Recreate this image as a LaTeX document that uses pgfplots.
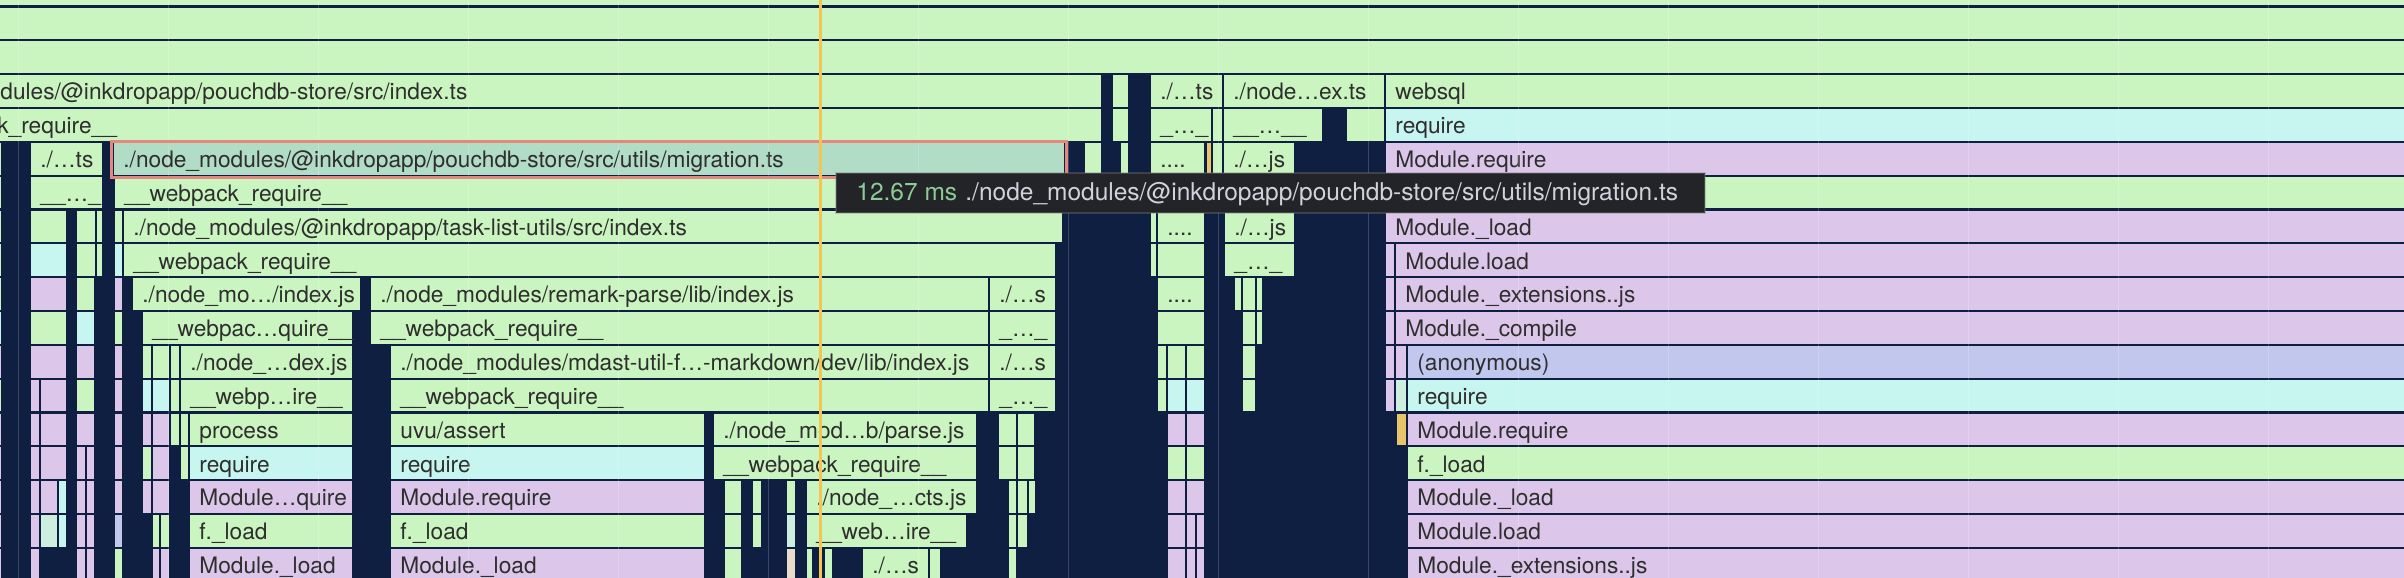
\documentclass[border=0pt]{standalone}
\usepackage{pgfplots}
\pgfplotsset{compat=1.18}
\usepackage{fontspec}
\setmainfont{TeX Gyre Heros}
\definecolor{NV}{HTML}{0F1F41}
\definecolor{G}{HTML}{CBF5C0}
\definecolor{C}{HTML}{C7F5EF}
\definecolor{P}{HTML}{DCC6E9}
\definecolor{A}{HTML}{C2C7EE}
\definecolor{M}{HTML}{CDEFE0}
\definecolor{O}{HTML}{E8C46A}
\definecolor{T}{HTML}{E9DCC9}
\definecolor{H}{HTML}{B1DCC6}
\definecolor{SAL}{HTML}{E4877F}
\definecolor{CUR}{HTML}{F5C451}
\definecolor{TT}{HTML}{232428}
\definecolor{TTG}{HTML}{8DCB97}
\definecolor{TTW}{HTML}{D0D3DA}
\definecolor{LBL}{HTML}{2E2E2E}
\newcommand\lbl{\fontsize{11.35}{13}\selectfont}
\newcommand\B[5]{%
  \pgfmathsetmacro\xa{#1+0.6}%
  \pgfmathsetmacro\xb{#2-0.6}%
  \pgfmathsetmacro\ya{#3-0.47}%
  \pgfmathsetmacro\yb{#3+0.47}%
  \edef\tmp{\noexpand\addplot[fill=#4,draw=none,forget plot] coordinates {(\xa,\ya) (\xb,\ya) (\xb,\yb) (\xa,\yb)};}%
  \tmp
  \ifx\relax#5\relax\else
    \node[anchor=base west, xshift=5pt, yshift=-4.4pt, inner sep=0pt, text=LBL, font=\lbl] at (axis cs:#1,#3) {#5};
  \fi
}
\begin{document}
\begin{tikzpicture}
\begin{axis}[name=ax, width=1202pt, height=289pt, scale only axis,
  xmin=0, xmax=2404, ymin=-0.692, ymax=16.388, y dir=reverse,
  hide axis, clip=true]
\addplot[fill=NV, draw=none, forget plot] coordinates {(-20,-2) (2424,-2) (2424,18) (-20,18)};
% rows -1..1
\B{-10}{2414}{-1}{G}{}
\B{-10}{2414}{0}{G}{}
\B{-10}{2414}{1}{G}{}
% row 2
\B{-10}{1102}{2}{G}{dules/@inkdropapp/pouchdb-store/src/index.ts}
\B{1112}{1129}{2}{G}{}
\B{1150}{1223}{2}{G}{./…ts}
\B{1223}{1385}{2}{G}{./node…ex.ts}
\B{1385}{2414}{2}{G}{websql}
% row 3
\B{-13}{1102}{3}{G}{k\_require\_\_}
\B{1112}{1129}{3}{G}{}
\B{1150}{1212}{3}{G}{\_…\_}
\B{1212}{1223}{3}{G}{}
\B{1223}{1323}{3}{G}{\_\_…\_\_}
\B{1346}{1385}{3}{G}{}
\B{1385}{2414}{3}{C}{require}
% row 4
\B{-5}{1.5}{4}{G}{}
\B{30}{103}{4}{G}{./…ts}
\B{113}{1065}{4}{H}{./node\_modules/@inkdropapp/pouchdb-store/src/utils/migration.ts}
\B{1084}{1102}{4}{G}{}
\B{1120}{1129}{4}{G}{}
\B{1150}{1205}{4}{G}{....}
\B{1206}{1212}{4}{O}{}
\B{1212}{1223}{4}{G}{}
\B{1223}{1295}{4}{G}{./…js}
\B{1385}{2414}{4}{P}{Module.require}
% row 5
\B{-5}{1.5}{5}{G}{}
\B{30}{103}{5}{G}{\_\_…\_}
\B{114}{1063}{5}{G}{\_\_webpack\_require\_\_}
\B{1150}{1157}{5}{G}{}
\B{1157}{1205}{5}{G}{}
\B{1224}{1295}{5}{G}{}
\B{1385}{2414}{5}{G}{}
% row 6
\B{-5}{1.5}{6}{G}{}
\B{30}{67}{6}{G}{}
\B{76}{96}{6}{G}{}
\B{96}{103}{6}{G}{}
\B{114}{123}{6}{G}{}
\B{123}{1063}{6}{G}{./node\_modules/@inkdropapp/task-list-utils/src/index.ts}
\B{1150}{1157}{6}{G}{}
\B{1157}{1205}{6}{G}{....}
\B{1224}{1295}{6}{G}{./…js}
\B{1385}{2414}{6}{P}{Module.\_load}
% row 7
\B{-5}{1.5}{7}{G}{}
\B{30}{67}{7}{C}{}
\B{76}{96}{7}{G}{}
\B{96}{103}{7}{G}{}
\B{114}{123}{7}{C}{}
\B{123}{1056}{7}{G}{\_\_webpack\_require\_\_}
\B{1150}{1157}{7}{G}{}
\B{1157}{1205}{7}{G}{}
\B{1224}{1295}{7}{G}{\_…\_}
\B{1385}{1395}{7}{P}{}
\B{1395}{2414}{7}{P}{Module.load}
% row 8
\B{-5}{1.5}{8}{G}{}
\B{30}{67}{8}{P}{}
\B{76}{95}{8}{G}{}
\B{114}{123}{8}{P}{}
\B{132}{361}{8}{G}{./node\_mo…/index.js}
\B{370}{989}{8}{G}{./node\_modules/remark-parse/lib/index.js}
\B{989}{1056}{8}{G}{./…s}
\B{1157}{1205}{8}{G}{....}
\B{1234}{1242}{8}{G}{}
\B{1242}{1256}{8}{G}{}
\B{1256}{1263}{8}{G}{}
\B{1385}{1395}{8}{P}{}
\B{1395}{2414}{8}{P}{Module.\_extensions..js}
% row 9
\B{-5}{1.5}{9}{C}{}
\B{30}{67}{9}{G}{}
\B{76}{95}{9}{C}{}
\B{114}{123}{9}{G}{}
\B{142}{353}{9}{G}{\_\_webpac…quire\_\_}
\B{370}{989}{9}{G}{\_\_webpack\_require\_\_}
\B{989}{1056}{9}{G}{\_…\_}
\B{1157}{1205}{9}{G}{}
\B{1242}{1256}{9}{G}{}
\B{1256}{1263}{9}{G}{}
\B{1385}{1395}{9}{P}{}
\B{1395}{2414}{9}{P}{Module.\_compile}
% row 10
\B{-5}{1.5}{10}{P}{}
\B{30}{67}{10}{P}{}
\B{76}{95}{10}{P}{}
\B{114}{123}{10}{P}{}
\B{142}{152}{10}{G}{}
\B{152}{170}{10}{G}{}
\B{170}{180}{10}{G}{}
\B{180}{353}{10}{G}{./node\_…dex.js}
\B{390}{989}{10}{G}{./node\_modules/mdast-util-f…-markdown/dev/lib/index.js}
\B{989}{1056}{10}{G}{./…s}
\B{1157}{1167}{10}{G}{}
\B{1167}{1186}{10}{G}{}
\B{1186}{1205}{10}{G}{}
\B{1242}{1256}{10}{G}{}
\B{1385}{1395}{10}{P}{}
\B{1395}{1407}{10}{P}{}
\B{1407}{2414}{10}{A}{(anonymous)}
% row 11
\B{-5}{1.5}{11}{G}{}
\B{30}{40}{11}{P}{}
\B{40}{67}{11}{P}{}
\B{76}{95}{11}{G}{}
\B{114}{123}{11}{P}{}
\B{142}{152}{11}{C}{}
\B{152}{170}{11}{C}{}
\B{170}{180}{11}{G}{}
\B{180}{353}{11}{G}{\_\_webp…ire\_\_}
\B{390}{989}{11}{G}{\_\_webpack\_require\_\_}
\B{989}{1056}{11}{G}{\_…\_}
\B{1157}{1167}{11}{G}{}
\B{1167}{1186}{11}{C}{}
\B{1186}{1205}{11}{C}{}
\B{1242}{1256}{11}{G}{}
\B{1385}{1395}{11}{P}{}
\B{1395}{1407}{11}{M}{}
\B{1407}{2414}{11}{C}{require}
% row 12
\B{-5}{1.5}{12}{P}{}
\B{30}{40}{12}{P}{}
\B{40}{67}{12}{P}{}
\B{76}{95}{12}{P}{}
\B{114}{123}{12}{P}{}
\B{142}{152}{12}{P}{}
\B{152}{170}{12}{P}{}
\B{170}{180}{12}{G}{}
\B{180}{189}{12}{G}{}
\B{189}{353}{12}{G}{process}
\B{390}{705}{12}{G}{uvu/assert}
\B{713}{977}{12}{G}{./node\_mod…b/parse.js}
\B{998}{1017}{12}{G}{}
\B{1017}{1035}{12}{G}{}
\B{1167}{1186}{12}{P}{}
\B{1186}{1205}{12}{P}{}
\B{1396}{1407}{12}{O}{}
\B{1407}{2414}{12}{P}{Module.require}
% row 13
\B{-5}{1.5}{13}{P}{}
\B{30}{40}{13}{P}{}
\B{40}{67}{13}{P}{}
\B{76}{86}{13}{P}{}
\B{86}{95}{13}{P}{}
\B{114}{123}{13}{P}{}
\B{142}{152}{13}{G}{}
\B{152}{170}{13}{P}{}
\B{180}{189}{13}{G}{}
\B{189}{353}{13}{C}{require}
\B{390}{705}{13}{C}{require}
\B{713}{977}{13}{G}{\_\_webpack\_require\_\_}
\B{998}{1017}{13}{G}{}
\B{1017}{1035}{13}{G}{}
\B{1167}{1186}{13}{G}{}
\B{1186}{1205}{13}{G}{}
\B{1407}{2414}{13}{G}{f.\_load}
% row 14
\B{-5}{1.5}{14}{P}{}
\B{30}{40}{14}{P}{}
\B{40}{58}{14}{P}{}
\B{58}{67}{14}{C}{}
\B{76}{86}{14}{P}{}
\B{86}{95}{14}{P}{}
\B{114}{123}{14}{P}{}
\B{142}{152}{14}{P}{}
\B{152}{170}{14}{P}{}
\B{189}{353}{14}{P}{Module…quire}
\B{390}{705}{14}{P}{Module.require}
\B{724}{742}{14}{G}{}
\B{752}{762}{14}{G}{}
\B{786}{796}{14}{G}{}
\B{806}{977}{14}{G}{./node\_…cts.js}
\B{1008}{1017}{14}{G}{}
\B{1017}{1028}{14}{G}{}
\B{1028}{1036}{14}{G}{}
\B{1167}{1186}{14}{P}{}
\B{1186}{1205}{14}{P}{}
\B{1407}{2414}{14}{P}{Module.\_load}
% row 15
\B{-5}{1.5}{15}{P}{}
\B{30}{40}{15}{P}{}
\B{40}{58}{15}{M}{}
\B{58}{67}{15}{C}{}
\B{76}{86}{15}{P}{}
\B{86}{95}{15}{P}{}
\B{114}{123}{15}{A}{}
\B{152}{160}{15}{G}{}
\B{160}{170}{15}{G}{}
\B{189}{353}{15}{G}{f.\_load}
\B{390}{705}{15}{G}{f.\_load}
\B{724}{742}{15}{G}{}
\B{752}{762}{15}{G}{}
\B{786}{796}{15}{M}{}
\B{806}{967}{15}{G}{\_\_web…ire\_\_}
\B{1008}{1017}{15}{G}{}
\B{1017}{1028}{15}{G}{}
\B{1167}{1186}{15}{P}{}
\B{1186}{1196}{15}{P}{}
\B{1196}{1205}{15}{P}{}
\B{1407}{2414}{15}{P}{Module.load}
% row 16
\B{-5}{1.5}{16}{P}{}
\B{30}{40}{16}{P}{}
\B{76}{86}{16}{P}{}
\B{86}{95}{16}{P}{}
\B{114}{123}{16}{G}{}
\B{152}{160}{16}{P}{}
\B{160}{170}{16}{P}{}
\B{189}{353}{16}{P}{Module.\_load}
\B{390}{705}{16}{P}{Module.\_load}
\B{724}{742}{16}{G}{}
\B{786}{796}{16}{T}{}
\B{806}{813}{16}{G}{}
\B{824}{833}{16}{G}{}
\B{862}{929}{16}{G}{./…s}
\B{929}{941}{16}{G}{}
\B{1008}{1017}{16}{G}{}
\B{1167}{1186}{16}{P}{}
\B{1186}{1196}{16}{P}{}
\B{1196}{1205}{16}{P}{}
\B{1407}{2414}{16}{P}{Module.\_extensions..js}
% faint grid lines
\pgfplotsinvokeforeach{18,168,318,468,618,768,918,1068,1218,1368,1518,1668,1818,1968,2118,2268}{
  \addplot[white, opacity=0.18, line width=0.5pt, forget plot] coordinates {(#1,-0.8) (#1,16.5)};
}
% highlight border
\addplot[draw=SAL, line width=1.5pt, forget plot] coordinates {(111.5,3.49) (1066.5,3.49) (1066.5,4.555) (111.5,4.555)} -- cycle;
% cursor line
\addplot[draw=CUR, line width=1.5pt, forget plot] coordinates {(820,-0.8) (820,16.5)};
% tooltip
\addplot[fill=TT, draw=gray, draw opacity=0.35, line width=1pt, forget plot] coordinates {(836,4.42) (1705,4.42) (1705,5.602) (836,5.602)} -- cycle;
\node[anchor=base west, inner sep=0pt, text=TTG, font=\fontsize{12.25}{14}\selectfont] at (axis cs:856,5.239) {12.67 ms};
\node[anchor=base west, inner sep=0pt, text=TTW, font=\fontsize{12.25}{14}\selectfont] at (axis cs:965,5.239) {./node\_modules/@inkdropapp/pouchdb-store/src/utils/migration.ts};
\end{axis}
\pgfresetboundingbox
\path[use as bounding box] (ax.south west) rectangle (ax.north east);
\end{tikzpicture}
\end{document}
